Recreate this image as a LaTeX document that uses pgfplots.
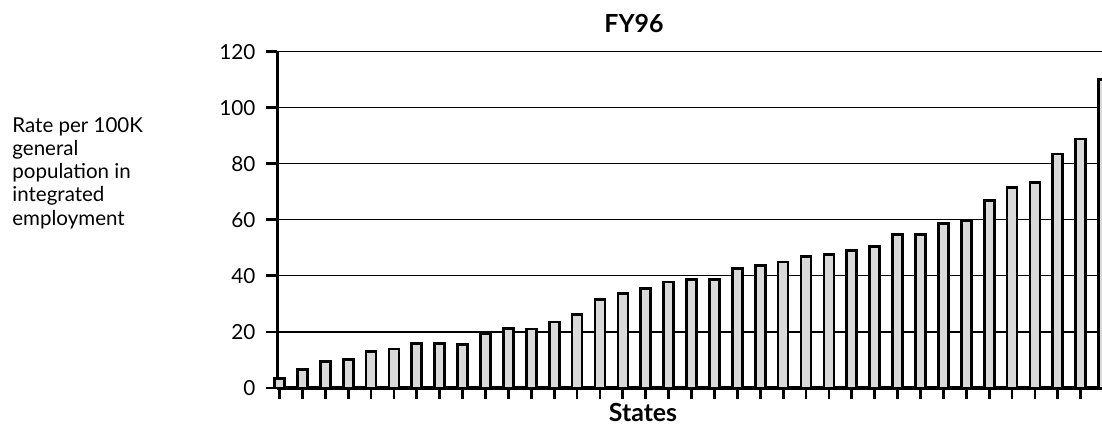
\documentclass[border=0pt]{standalone}
\usepackage{fontspec}
\setmainfont{Lato}
\usepackage{pgfplots}
\pgfplotsset{compat=1.18}
\begin{document}
\begin{tikzpicture}
\path[use as bounding box] (-138.75bp,-19.5bp) rectangle (412.25bp,194bp);
\begin{axis}[
    at={(0,0)}, anchor=south west,
    scale only axis, width=412.25bp, height=168.15bp,
    xmin=-0.087, xmax=35.93, ymin=0, ymax=120,
    ytick={0,20,...,120}, xtick={0,...,36}, xticklabels={},
    axis x line*=bottom, axis y line*=left,
    ymajorgrids, grid style={black, line width=0.6bp},
    axis line style={line width=1.7bp},
    tick align=outside, major tick length=5.5bp,
    tick style={black, line width=1.4bp},
    ybar, bar width=5bp,
    clip=false,
    /pgf/number format/assume math mode=true,
    ticklabel style={font=\fontsize{10.4}{12}\selectfont},
    yticklabel style={xshift=-2bp},
]
\addplot[draw=black, line width=1.35bp, fill=black!15] coordinates {
    (0,3.5)(1,6.6)(2,9.4)(3,10.2)(4,13.1)(5,13.9)(6,15.9)(7,15.9)(8,15.6)
    (9,19.4)(10,21.3)(11,21.1)(12,23.5)(13,26.3)(14,31.7)(15,33.7)(16,35.6)
    (17,37.8)(18,38.8)(19,38.8)(20,42.7)(21,43.7)(22,45)(23,46.9)(24,47.7)
    (25,49)(26,50.6)(27,54.7)(28,54.7)(29,58.7)(30,59.6)(31,66.8)(32,71.5)
    (33,73.3)(34,83.5)(35,88.9)(36,110)
};
\end{axis}
\node[anchor=base, font=\bfseries\fontsize{12.5}{14}\selectfont] at (178.25bp,177.5bp) {FY96};
\node[anchor=base, font=\bfseries\fontsize{12.5}{14}\selectfont] at (182.75bp,-16.8bp) {States};
\node[anchor=north west, align=left, inner sep=0, font=\fontsize{10.3}{11.65}\selectfont] at (-132.75bp,135.5bp) {Rate per 100K\\general\\population in\\integrated\\employment};
\end{tikzpicture}
\end{document}
